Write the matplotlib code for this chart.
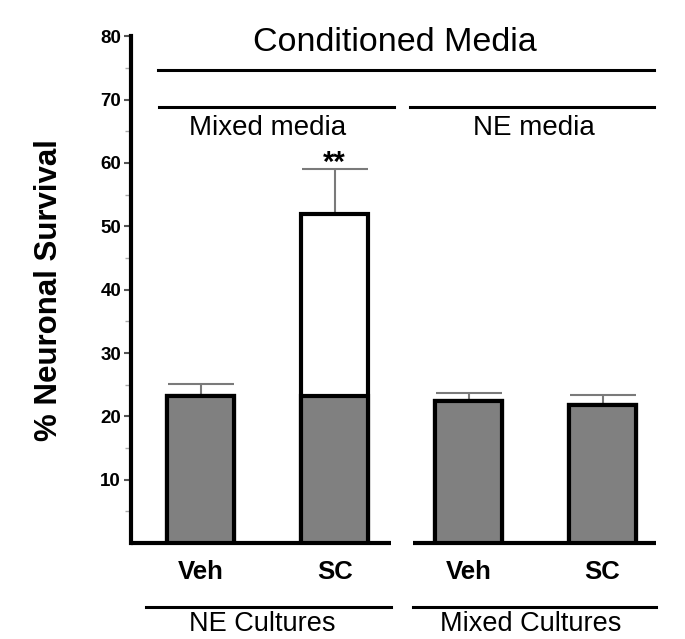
import numpy as np
import matplotlib
matplotlib.use('Agg')
import matplotlib.pyplot as plt

plt.rcParams['font.family'] = ['Liberation Sans', 'DejaVu Sans']

# Data
categories = ['Veh', 'SC', 'Veh', 'SC']
means = np.array([23.2, 52.0, 22.4, 21.8])      # total bar height
baseline = np.array([23.2, 23.2, 22.4, 21.8])   # gray (basal) part
sem = np.array([1.9, 7.1, 1.3, 1.6])
culture_groups = ['NE Cultures', 'Mixed Cultures']
media_groups = ['Mixed media', 'NE media']
title = 'Conditioned Media'

x = np.arange(len(categories))

fig = plt.figure(figsize=(6.85, 6.39), dpi=100)
ax = fig.add_axes([0.191, 0.150, 0.766, 0.7934])

# error bars (upper only), drawn behind bars
ax.errorbar(x, means, yerr=[np.zeros_like(sem), sem], fmt='none',
            ecolor='#7a7a7a', elinewidth=1.5, capsize=24, capthick=1.5, zorder=1)
# white bar for full height, gray basal part over it
ax.bar(x, means, width=0.5, color='white', edgecolor='black', linewidth=3, zorder=2)
ax.bar(x, baseline, width=0.5, color='#808080', edgecolor='black', linewidth=3, zorder=3)

ax.text(x[1], means[1] + sem[1] - 0.4, '**', ha='center', va='baseline',
        fontsize=21, fontweight='bold')

ax.set_xlim(-0.522, 3.396)
ax.set_ylim(0, 80)
ax.set_yticks(np.arange(10, 81, 10))
ax.set_yticks(np.arange(5, 80, 10), minor=True)
ax.tick_params(axis='y', which='major', length=5, width=1.5, color='#555555',
               labelsize=13.5, pad=2)
ax.tick_params(axis='y', which='minor', length=4, width=1, color='#aaaaaa')
for lab in ax.get_yticklabels():
    lab.set_fontweight('bold')

ax.set_xticks(x)
ax.set_xticklabels(categories, fontsize=18.5, fontweight='bold')
ax.tick_params(axis='x', length=0, pad=12)

ax.set_ylabel('% Neuronal Survival', fontsize=22.5, fontweight='bold', labelpad=26)

for s in ['top', 'right', 'bottom']:
    ax.spines[s].set_visible(False)
ax.spines['left'].set_linewidth(3)

# broken x axis
ax.plot([-0.522, 1.418], [0, 0], color='black', lw=3, clip_on=False, solid_capstyle='butt')
ax.plot([1.582, 3.396], [0, 0], color='black', lw=3, clip_on=False, solid_capstyle='butt')

# header brackets
ax.plot([-0.321, 3.388], [74.6, 74.6], color='black', lw=2.2, clip_on=False)
ax.text(1.45, 77.6, title, ha='center', va='baseline', fontsize=24.5)
ax.plot([-0.313, 1.44], [68.9, 68.9], color='black', lw=2.2, clip_on=False)
ax.plot([1.56, 3.388], [68.9, 68.9], color='black', lw=2.2, clip_on=False)
ax.text(0.5, 64.4, media_groups[0], ha='center', va='baseline', fontsize=20)
ax.text(2.49, 64.4, media_groups[1], ha='center', va='baseline', fontsize=20)

# footer brackets
ax.plot([-0.41, 1.418], [-10.1, -10.1], color='black', lw=2.2, clip_on=False)
ax.plot([1.582, 3.396], [-10.1, -10.1], color='black', lw=2.2, clip_on=False)
ax.text(0.46, -13.9, culture_groups[0], ha='center', va='baseline', fontsize=19.5)
ax.text(2.46, -13.9, culture_groups[1], ha='center', va='baseline', fontsize=19.5)

fig.savefig('out.png', dpi=100)
